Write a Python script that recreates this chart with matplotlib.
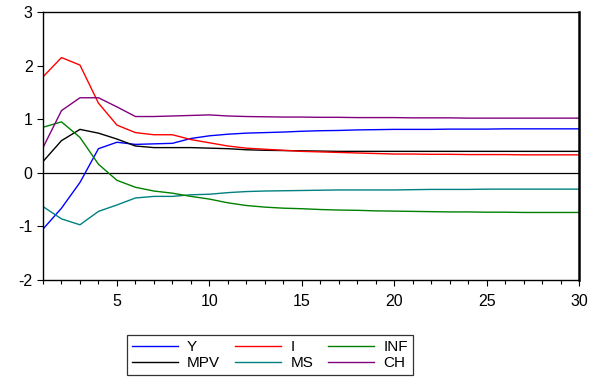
import matplotlib
matplotlib.use("Agg")
import matplotlib.pyplot as plt
from matplotlib.ticker import MultipleLocator

plt.rcParams['font.family'] = ['Liberation Sans', 'DejaVu Sans']
plt.rcParams['axes.unicode_minus'] = False

periods = list(range(1, 31))
Y = [-1.05, -0.66, -0.18, 0.45, 0.57, 0.53, 0.54, 0.55, 0.64, 0.69, 0.72, 0.74, 0.75, 0.76, 0.775,
     0.785, 0.79, 0.80, 0.805, 0.81, 0.81, 0.81, 0.815, 0.815, 0.815, 0.82, 0.82, 0.82, 0.82, 0.82]
I = [1.79, 2.15, 2.01, 1.30, 0.89, 0.75, 0.71, 0.71, 0.62, 0.56, 0.50, 0.46, 0.44, 0.42, 0.40,
     0.39, 0.38, 0.37, 0.36, 0.35, 0.35, 0.345, 0.345, 0.34, 0.34, 0.34, 0.335, 0.335, 0.335, 0.335]
INF = [0.85, 0.95, 0.66, 0.16, -0.14, -0.27, -0.34, -0.38, -0.44, -0.49, -0.56, -0.61, -0.64, -0.66, -0.67,
       -0.685, -0.695, -0.70, -0.71, -0.715, -0.72, -0.725, -0.73, -0.73, -0.735, -0.735, -0.74, -0.74, -0.74, -0.74]
MPV = [0.21, 0.60, 0.81, 0.74, 0.63, 0.50, 0.47, 0.47, 0.47, 0.46, 0.45, 0.43, 0.42, 0.415, 0.41,
       0.405, 0.40, 0.40, 0.40, 0.40, 0.40, 0.40, 0.40, 0.40, 0.40, 0.40, 0.40, 0.40, 0.40, 0.40]
MS = [-0.63, -0.86, -0.97, -0.72, -0.60, -0.47, -0.44, -0.44, -0.41, -0.40, -0.37, -0.35, -0.34, -0.335, -0.33,
      -0.325, -0.32, -0.32, -0.32, -0.32, -0.315, -0.31, -0.31, -0.31, -0.305, -0.305, -0.305, -0.305, -0.305, -0.305]
CH = [0.47, 1.16, 1.40, 1.40, 1.23, 1.05, 1.05, 1.06, 1.07, 1.08, 1.06, 1.05, 1.045, 1.04, 1.04,
      1.035, 1.035, 1.03, 1.03, 1.03, 1.025, 1.025, 1.025, 1.02, 1.02, 1.02, 1.02, 1.02, 1.02, 1.02]

series = [("Y", Y, "#0000FF"), ("MPV", MPV, "#000000"), ("I", I, "#FF0000"),
          ("MS", MS, "#008080"), ("INF", INF, "#008000"), ("CH", CH, "#800080")]

fig = plt.figure(figsize=(6.01, 3.81), dpi=100)
ax = fig.add_axes([43/601, 1 - 280/381, (579-43)/601, (280-12)/381])

ax.axhline(0, color="black", lw=0.9)
for name, vals, col in series:
    ax.plot(periods, vals, color=col, lw=1.0, label=name)

ax.set_xlim(1, 30)
ax.set_ylim(-2, 3)
ax.xaxis.set_major_locator(MultipleLocator(5))
ax.xaxis.set_minor_locator(MultipleLocator(1))
ax.yaxis.set_major_locator(MultipleLocator(1))
ax.tick_params(axis='both', which='major', direction='out', length=4, width=0.8, labelsize=11.5, colors='black')
ax.tick_params(axis='x', which='minor', direction='out', length=3, width=0.8)
ax.tick_params(axis='x', pad=6)
for s in ax.spines.values():
    s.set_linewidth(1.0)
ax.spines['right'].set_linewidth(1.8)

leg = fig.legend(loc='center', bbox_to_anchor=(270/601, 1 - 355/381), ncol=3, fontsize=11,
                 frameon=True, fancybox=False, edgecolor='black', handlelength=3.0,
                 columnspacing=1.0, handletextpad=0.6, labelspacing=0.15, borderpad=0.3)
leg.get_frame().set_linewidth(0.9)

fig.savefig("out.png", dpi=100)
